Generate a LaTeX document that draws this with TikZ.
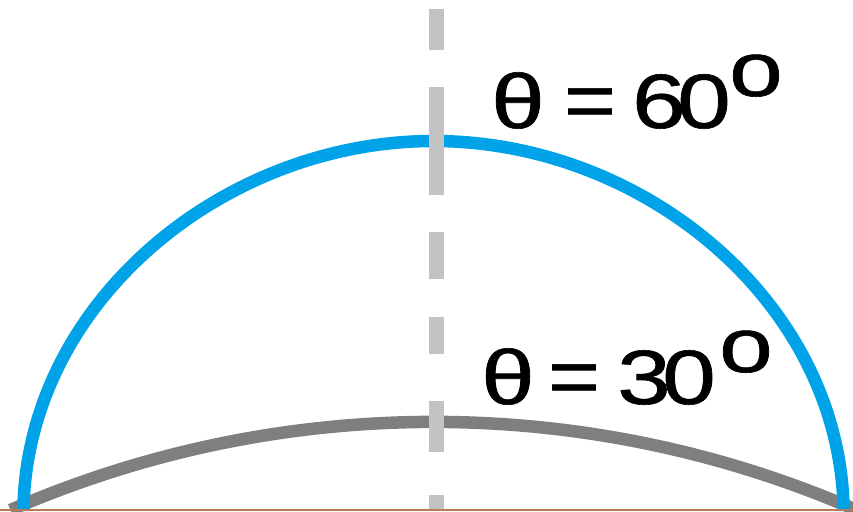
\documentclass[tikz,border=0pt]{standalone}
\usepackage{fontspec}
\setmainfont{Liberation Sans}
\newfontfamily\lblfont[FakeBold=0.8]{Liberation Sans}
\definecolor{pblue}{HTML}{00A2E8}
\definecolor{pgray}{HTML}{7F7F7F}
\definecolor{plight}{HTML}{C3C3C3}
\definecolor{pbrown}{HTML}{B97A57}
\newcommand{\mywide}[1]{\scalebox{1.25}[1]{#1}}
\newcommand{\myeq}{\scalebox{1.15}[1.05]{=}}
\begin{document}
\begin{tikzpicture}[x=1pt,y=1pt,
  lbl/.style={inner sep=0pt, anchor=base west, font=\lblfont\fontsize{77}{77}\selectfont},
  pattern60/.style={draw=pblue, line width=12.5pt, line join=round},
  pattern30/.style={draw=pgray, line width=12.5pt},
  axisline/.style={draw=plight, line width=14.5pt, line cap=butt,
    dash pattern=on 41pt off 37pt on 108pt off 37pt on 47pt off 38pt on 37pt off 47pt on 51pt off 43pt on 14pt},
  baseline/.style={fill=pbrown, draw=none}]
\useasboundingbox (0,0) rectangle (853,-511);
% theta = 30 pattern
\draw[pattern30] (10.5,-510) arc[start angle=113.54, end angle=66.46, radius=1059];
% theta = 60 pattern
\coordinate (bl) at (23.5,-511);
\coordinate (br) at (843.5,-511);
\draw[pattern60] (bl) -- (23.5,-505)
  .. controls (30,-300) and (225,-141) .. (433.5,-141)
  .. controls (642,-141) and (837,-300) .. (843.5,-505) -- (br);
% vertical axis
\coordinate (axtop) at (436.5,-9);
\coordinate (axbot) at (436.5,-509);
\draw[axisline] (axtop) -- (axbot);
% ground line
\fill[baseline] (0,-508.5) rectangle (853,-511);
% labels
\node[lbl] (t60) at (491,-128) {\mywide{θ}};
\node[lbl] (e60) at (564,-128) {\myeq};
\node[lbl] (n60) at (632,-128) {\mywide{6\kern-6.8pt 0}};
\node[lbl] (d60) at (729,-96) {\mywide{o}};
\node[lbl] (t30) at (481,-404) {\mywide{θ}};
\node[lbl] (e30) at (548,-404) {\myeq};
\node[lbl] (n30) at (617,-404) {\mywide{3\kern-6.8pt 0}};
\node[lbl] (d30) at (719,-372) {\mywide{o}};
\end{tikzpicture}
\end{document}
